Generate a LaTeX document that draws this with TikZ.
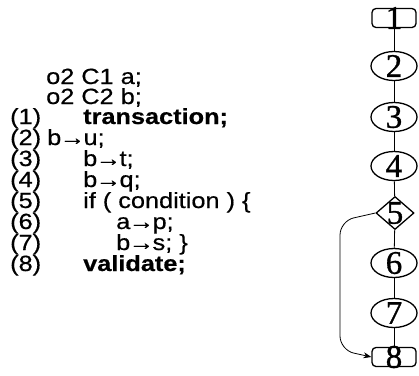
\documentclass[tikz,border=0pt]{standalone}
\usepackage{fontspec}
\setmainfont{Liberation Sans}
\newfontfamily\codefont[FakeStretch=1.15,FakeBold=0.5]{Liberation Sans}
\newfontfamily\numfont[FakeBold=1]{Liberation Serif}
\usetikzlibrary{shapes.geometric,arrows.meta}
\begin{document}
\begin{tikzpicture}[x=1pt,y=-1pt,
  code/.style={anchor=base west,inner sep=0pt,font=\codefont\fontsize{22}{22}\selectfont},
  num/.style={inner sep=0pt,font=\numfont\fontsize{33}{33}\selectfont},
  rbox/.style={draw,line width=1.3pt,rounded corners=4pt,minimum width=44pt,minimum height=19pt,inner sep=0pt},
  oval/.style={draw,line width=1.3pt,ellipse,minimum width=46pt,minimum height=29pt,inner sep=0pt},
  dia/.style={draw,line width=1.3pt,diamond,minimum width=38pt,minimum height=33pt,inner sep=0pt},
  link/.style={line width=0.8pt}]
\useasboundingbox (0,0) rectangle (419,375);
% code listing
\node[code] (c0) at (46,84) {o2 C1 a;};
\node[code] (c00) at (46,104) {o2 C2 b;};
\node[code] (l1) at (10,124) {(1)};
\node[code] (t1) at (83,124) {\bfseries transaction;};
\node[code] (l2) at (10,145) {(2)};
\node[code] (t2) at (47,145) {b\kern-1.5pt→\kern-1.5pt u;};
\node[code] (l3) at (10,166) {(3)};
\node[code] (t3) at (83,166) {b\kern-1.5pt→\kern-1.5pt t;};
\node[code] (l4) at (10,187) {(4)};
\node[code] (t4) at (83,187) {b\kern-1.5pt→\kern-1.5pt q;};
\node[code] (l5) at (10,208) {(5)};
\node[code] (t5) at (83,208) {if ( condition ) \{};
\node[code] (l6) at (10,229) {(6)};
\node[code] (t6) at (116,229) {a\kern-1.5pt→\kern-1.5pt p;};
\node[code] (l7) at (10,250) {(7)};
\node[code] (t7) at (116,250) {b\kern-1.5pt→\kern-1.5pt s; \}};
\node[code] (l8) at (10,271) {(8)};
\node[code] (t8) at (83,271) {\bfseries validate;};
% graph
\node[rbox,label={[num]center:1}] (n1) at (394,18) {};
\node[oval,label={[num]center:2}] (n2) at (394,66) {};
\node[oval,label={[num]center:3}] (n3) at (394,117) {};
\node[oval,label={[num]center:4}] (n4) at (394,166) {};
\node[dia,label={[num]center:5}] (n5) at (395,213) {};
\node[oval,label={[num]center:6}] (n6) at (394,263) {};
\node[oval,label={[num]center:7}] (n7) at (394,313) {};
\node[rbox,label={[num]center:8}] (n8) at (394,357) {};
\draw[link] (n1) -- (n2);
\draw[link] (n2) -- (n3);
\draw[link] (n3) -- (n4);
\draw[link] (n4) -- (n5);
\draw[link] (n5) -- (n6);
\draw[link] (n6) -- (n7);
\draw[link] (n7) -- (n8);
\coordinate (k1) at (340,221);
\coordinate (k2) at (340,350);
\draw[link,-{Stealth[length=8pt,width=6pt]},rounded corners=14pt] (n5.west) -- (k1) -- (k2) -- (n8.west);
\end{tikzpicture}
\end{document}
